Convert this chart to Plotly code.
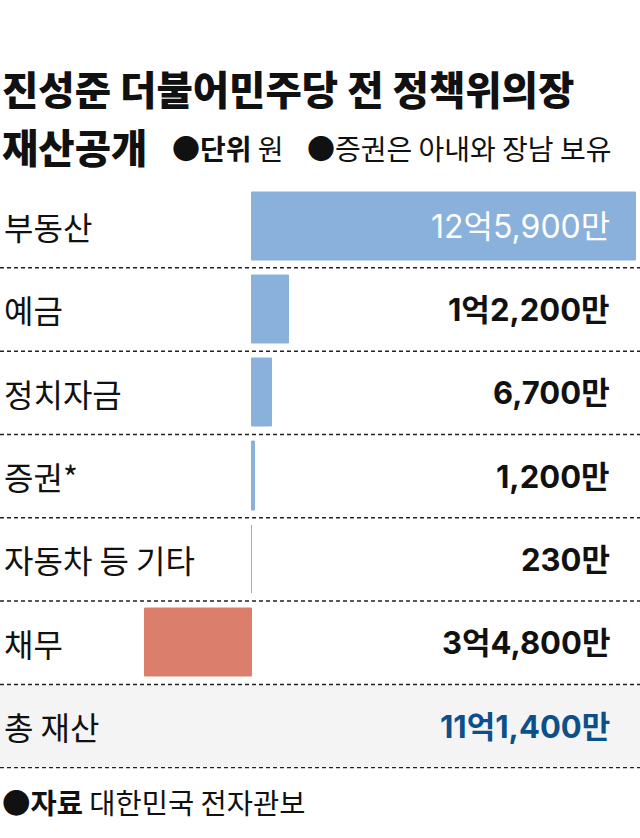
import plotly.graph_objects as go

# 단위: 만 원
categories = ["부동산", "예금", "정치자금", "증권*", "자동차 등 기타", "채무", "총 재산"]
values = [125900, 12200, 6700, 1200, 230, -34800, None]
value_labels = ["12억5,900만", "1억2,200만", "6,700만", "1,200만", "230만", "3억4,800만", "11억1,400만"]

W, H = 640, 838
FONT = "Noto Sans CJK KR"
NUM_FONT = "Inter, Noto Sans CJK KR"
BLUE = "#8ab1dc"
RED = "#db7e6c"
TOTAL_BLUE = "#0d4f88"

def py(px):
    # pixel from top -> paper y
    return 1 - px / H

bar_colors = [RED if (v is not None and v < 0) else BLUE for v in values]

fig = go.Figure()
fig.add_trace(go.Bar(
    x=values, y=categories, orientation="h",
    marker=dict(color=bar_colors, line=dict(width=1, color=bar_colors)),
    width=0.82, hoverinfo="skip", showlegend=False,
))

# x scale: 0 at px 251, 125900 at px 636
x0_px, x1_px = 251.5, 635.5
unit = (x1_px - x0_px) / values[0]
xmin = -x0_px / unit
xmax = xmin + W / unit

fig.update_xaxes(range=[xmin, xmax], visible=False, fixedrange=True)
fig.update_yaxes(type="category", categoryorder="array", categoryarray=categories,
                 autorange="reversed", domain=[py(768.5), py(184.5)], visible=False, fixedrange=True)

shapes = []
# 총 재산 row background
shapes.append(dict(type="rect", xref="paper", yref="y", x0=0, x1=1, y0=5.5, y1=6.5,
                   fillcolor="#f4f4f4", line=dict(width=0), layer="below"))
for i in range(len(categories)):
    shapes.append(dict(type="line", xref="paper", yref="y", x0=0, x1=1, y0=i + 0.5, y1=i + 0.5,
                       line=dict(color="#222222", width=1.5, dash="4px,3px")))

ann = []
for i, (c, lab) in enumerate(zip(categories, value_labels)):
    ann.append(dict(text=c, xref="paper", yref="y", x=2 / W, y=c, xanchor="left", yanchor="middle",
                    showarrow=False, font=dict(family=FONT, size=32, color="#111111")))
    if i == 0:
        f = dict(family=NUM_FONT, size=32, color="white")
    elif c == "총 재산":
        f = dict(family=NUM_FONT, size=31, color=TOTAL_BLUE, weight=700)
    else:
        f = dict(family=NUM_FONT, size=31, color="#111111", weight=700)
    ann.append(dict(text=lab, xref="paper", yref="y", x=612 / W, y=c, xanchor="right", yanchor="middle",
                    showarrow=False, font=f))

# title and notes
ann.append(dict(text="진성준 더불어민주당 전 정책위의장", xref="paper", yref="paper",
                x=0, y=py(88), xanchor="left", yanchor="middle", showarrow=False,
                font=dict(family=FONT, size=39.5, color="#111111", weight=900)))
ann.append(dict(text="재산공개", xref="paper", yref="paper",
                x=0, y=py(146), xanchor="left", yanchor="middle", showarrow=False,
                font=dict(family=FONT, size=39.5, color="#111111", weight=900)))
ann.append(dict(text="<b>●단위</b> 원", xref="paper", yref="paper",
                x=170 / W, y=py(148), xanchor="left", yanchor="middle", showarrow=False,
                font=dict(family=FONT, size=28, color="#111111")))
ann.append(dict(text="●증권은 아내와 장남 보유", xref="paper", yref="paper",
                x=305 / W, y=py(148), xanchor="left", yanchor="middle", showarrow=False,
                font=dict(family=FONT, size=28, color="#111111")))
ann.append(dict(text="<b>●자료</b> 대한민국 전자관보", xref="paper", yref="paper",
                x=0, y=py(801), xanchor="left", yanchor="middle", showarrow=False,
                font=dict(family=FONT, size=28.5, color="#111111")))

fig.update_layout(
    width=W, height=H,
    margin=dict(l=0, r=0, t=0, b=0),
    plot_bgcolor="white", paper_bgcolor="white",
    shapes=shapes, annotations=ann,
    bargap=0,
)

fig.write_html("out.html", config={"displayModeBar": False},
               post_script="document.body.style.margin='0';")
